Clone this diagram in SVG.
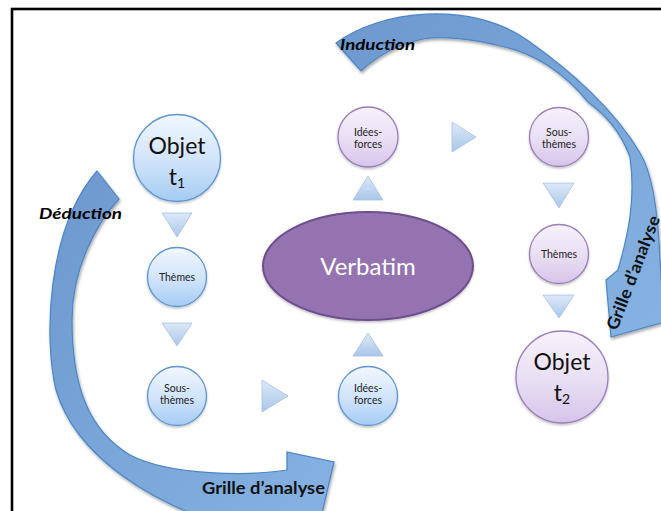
<svg xmlns="http://www.w3.org/2000/svg" width="661" height="511" viewBox="0 0 661 511">
  <defs>
    <linearGradient id="gBlue" x1="0" y1="0" x2="0" y2="1">
      <stop offset="0" stop-color="#f1f7fe"/>
      <stop offset="0.55" stop-color="#cfe3fa"/>
      <stop offset="1" stop-color="#a5cbf4"/>
    </linearGradient>
    <linearGradient id="gPurple" x1="0" y1="0" x2="0" y2="1">
      <stop offset="0" stop-color="#f6f2fb"/>
      <stop offset="0.55" stop-color="#e8def3"/>
      <stop offset="1" stop-color="#d6c4ea"/>
    </linearGradient>
    <linearGradient id="gTri" x1="0" y1="0" x2="0" y2="1">
      <stop offset="0" stop-color="#dde9f7"/>
      <stop offset="1" stop-color="#a9c6ea"/>
    </linearGradient>
    <linearGradient id="gArrow" x1="0" y1="0" x2="1" y2="1">
      <stop offset="0" stop-color="#6d98ce"/>
      <stop offset="1" stop-color="#86b3e2"/>
    </linearGradient>
    <filter id="shadow" x="-20%" y="-20%" width="140%" height="140%">
      <feDropShadow dx="1" dy="2" stdDeviation="1.5" flood-color="#000" flood-opacity="0.35"/>
    </filter>
    <filter id="soft" x="-20%" y="-20%" width="140%" height="140%">
      <feDropShadow dx="0" dy="1.5" stdDeviation="1.2" flood-color="#000" flood-opacity="0.25"/>
    </filter>
  </defs>
  <style>
    .blue { fill: url(#gBlue); stroke: #5e95d0; stroke-width: 1.3; filter: url(#soft); }
    .purple { fill: url(#gPurple); stroke: #9b7db9; stroke-width: 1.3; filter: url(#soft); }
    .tri { fill: url(#gTri); stroke: #a6c0e2; stroke-width: 0.8; }
    .arrow { fill: url(#gArrow); stroke: #4c86c5; stroke-width: 1.2; filter: url(#shadow); }
    .lbl { font-family: "Lato", "Liberation Sans", sans-serif; font-size: 10.5px; fill: #222; text-anchor: middle; }
    .big { font-family: "Lato", "Liberation Sans", sans-serif; font-size: 23px; fill: #111; text-anchor: middle; }
    .sub { font-size: 14px; }
    .bi { font-family: "Lato", "Liberation Sans", sans-serif; font-weight: bold; font-style: italic; font-size: 16px; fill: #000; }
    .bold { font-family: "Lato", "Liberation Sans", sans-serif; font-weight: bold; font-size: 17px; fill: #111; }
  </style>

  <rect x="0" y="0" width="661" height="511" fill="#fff"/>
  <!-- frame -->
  <rect x="12" y="9" width="700" height="560" fill="none" stroke="#000" stroke-width="2.6"/>

  <!-- curved arrows -->
  <g id="connectors">
    <g id="induction-arrow">
      <path class="arrow" d="M336,43 C380,10 470,0 527,40 C570,70 615,110 640,153 C652,172 658,210 660,260 L664,322 L611,337 L606,280 L618,270 C628,235 636,200 630,157 C620,130 605,115 588,102 C560,68 530,52 500,46 C470,38 440,36 423,39 C400,44 378,55 361,71 Z"/>
      <text class="bi" x="340" y="50" textLength="75" lengthAdjust="spacingAndGlyphs">Induction</text>
      <text class="bold" font-size="15" transform="translate(634,273) rotate(-69)" text-anchor="middle" y="5" textLength="121" lengthAdjust="spacingAndGlyphs">Grille d’analyse</text>
    </g>
    <g id="deduction-arrow">
      <path class="arrow" d="M97,171 L119,199 C95,225 72,270 72,320 C72,385 88,430 130,455 C170,476 250,476 287,470 L287,452 L334,462 L318,530 L240,530 C150,505 75,455 56,390 C44,340 46,230 97,171 Z"/>
      <text class="bi" x="39" y="219" textLength="83" lengthAdjust="spacingAndGlyphs">Déduction</text>
      <text class="bold" x="202" y="494" textLength="123" lengthAdjust="spacingAndGlyphs">Grille d’analyse</text>
    </g>
    <!-- step triangles -->
    <polygon class="tri" points="162,213 192,213 177,237"/>
    <polygon class="tri" points="162,323 192,323 177,346"/>
    <polygon class="tri" points="262,380 288,396 262,412"/>
    <polygon class="tri" points="353,356 383,356 368,333"/>
    <polygon class="tri" points="353,200 383,200 368,176"/>
    <polygon class="tri" points="452,122 476,137 452,152"/>
    <polygon class="tri" points="543,183 574,183 559,208"/>
    <polygon class="tri" points="543,295 574,295 559,318"/>
  </g>

  <g id="objet-t1">
    <circle class="blue" cx="177" cy="158" r="43.5"/>
    <text class="big" x="177" y="154">Objet</text>
    <text class="big" x="177" y="185">t<tspan class="sub" dy="3">1</tspan></text>
  </g>
  <g id="themes-1">
    <circle class="blue" cx="177" cy="277" r="29.5"/>
    <text class="lbl" x="177" y="281">Thèmes</text>
  </g>
  <g id="sous-themes-1">
    <circle class="blue" cx="177" cy="396" r="29.5"/>
    <text class="lbl" x="177" y="392">Sous-</text>
    <text class="lbl" x="177" y="404">thèmes</text>
  </g>
  <g id="idees-forces-1">
    <circle class="blue" cx="368" cy="396" r="29.5"/>
    <text class="lbl" x="368" y="392">Idées-</text>
    <text class="lbl" x="368" y="404">forces</text>
  </g>
  <g id="verbatim">
    <ellipse cx="368" cy="266" rx="105" ry="54" fill="#9473b0" stroke="#6e4e8e" stroke-width="2" filter="url(#soft)"/>
    <text x="368" y="275" font-family="Lato, 'Liberation Sans', sans-serif" font-size="24" fill="#fff" text-anchor="middle">Verbatim</text>
  </g>
  <g id="idees-forces-2">
    <circle class="purple" cx="368" cy="137" r="30"/>
    <text class="lbl" x="368" y="136">Idées-</text>
    <text class="lbl" x="368" y="148">forces</text>
  </g>
  <g id="sous-themes-2">
    <circle class="purple" cx="559" cy="137" r="29.5"/>
    <text class="lbl" x="559" y="136">Sous-</text>
    <text class="lbl" x="559" y="148">thèmes</text>
  </g>
  <g id="themes-2">
    <circle class="purple" cx="559" cy="254" r="29.5"/>
    <text class="lbl" x="559" y="258">Thèmes</text>
  </g>
  <g id="objet-t2">
    <circle class="purple" cx="562" cy="377" r="46"/>
    <text class="big" x="562" y="370">Objet</text>
    <text class="big" x="562" y="401">t<tspan class="sub" dy="3">2</tspan></text>
  </g>
</svg>
